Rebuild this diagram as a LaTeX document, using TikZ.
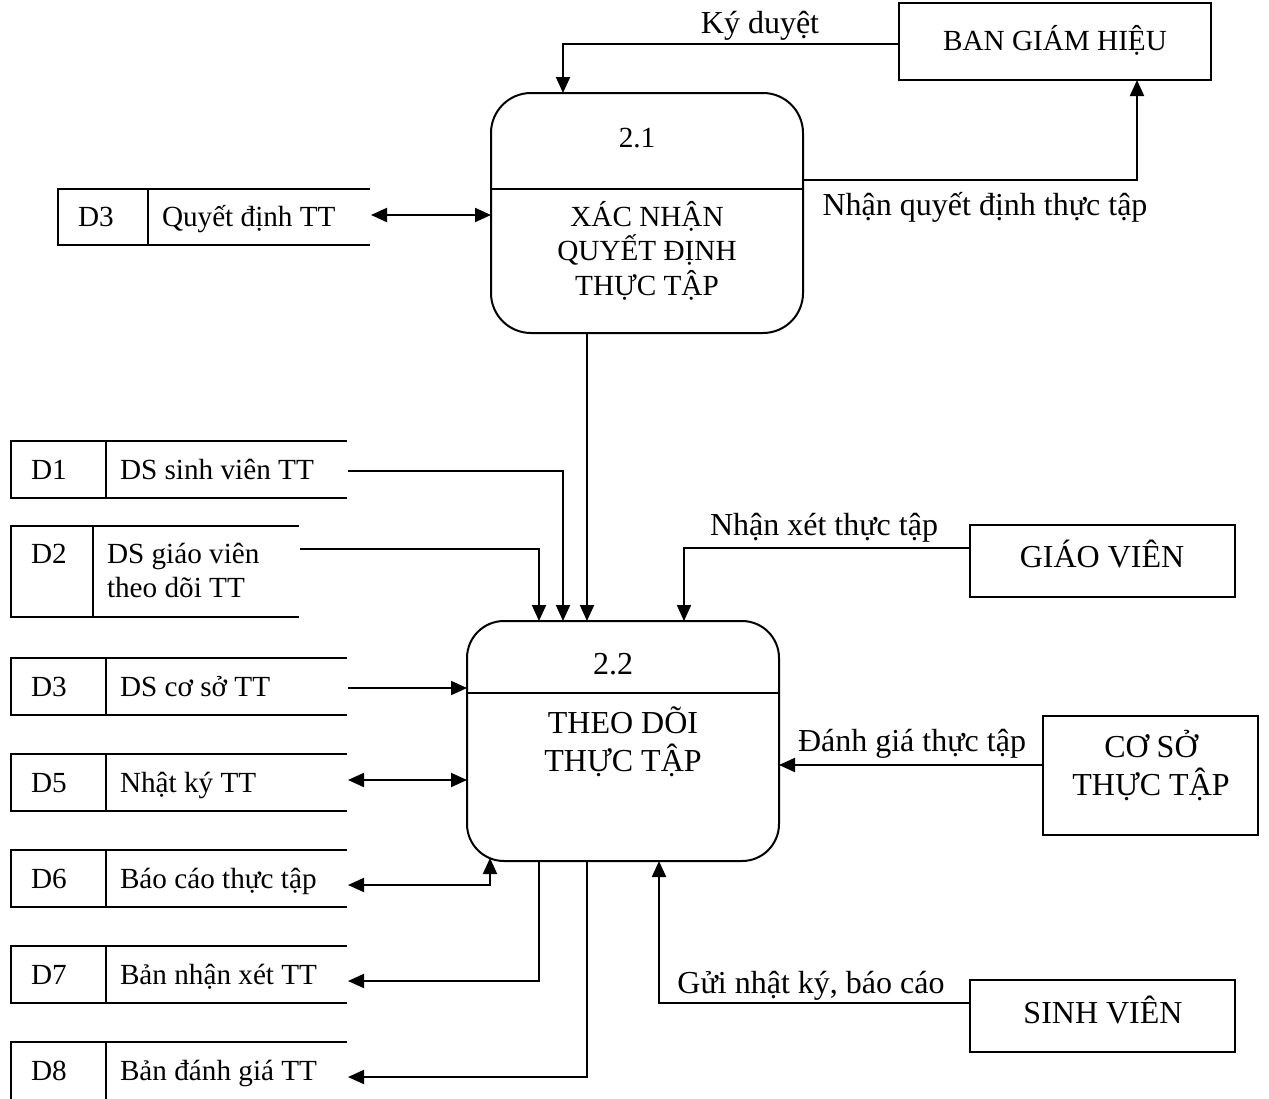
\documentclass[tikz,border=0pt]{standalone}
\usepackage{fontspec}
\setmainfont{Liberation Serif}
\usetikzlibrary{arrows.meta}
\newcommand\mystore[9]{%
  \draw[ln] (#6,#3) -- (#2,#3) -- (#2,#4) -- (#6,#4);
  \draw[ln] (#5,#3) -- (#5,#4);
  \node[anchor=base west] (#1-id) at ({#2+20},{(#3+#4)/2+9.5}) {#8};
  \node[anchor=base west] (#1-t) at ({#5+14},{(#3+#4)/2+9.5}) {#9};
  \coordinate (#1) at ({#6+1},#7);
}
\begin{document}
\begin{tikzpicture}[x=1pt,y=-1pt,
  every node/.style={font=\fontsize{29.2}{35}\selectfont, inner sep=0pt, outer sep=0pt},
  big/.style={font=\fontsize{32}{38}\selectfont},
  ln/.style={line width=2pt},
  arr/.style={ln,-{Triangle[length=16pt,width=14pt]}},
  darr/.style={ln,{Triangle[length=16pt,width=14pt]}-{Triangle[length=16pt,width=14pt]}},
  ext/.style={draw, line width=2pt, rectangle},
  proc/.style={draw, line width=2pt, rectangle}
]
\useasboundingbox (0,0) rectangle (1269,1098);

% helper coordinates
\coordinate (xa) at (563,0);
\coordinate (xb) at (1137,0);
\coordinate (xc) at (587,0);
\coordinate (xd) at (539,0);
\coordinate (xe) at (684,0);
\coordinate (xf) at (659,0);
\coordinate (xg) at (490,0);
\coordinate (y44) at (0,44);
\coordinate (y180) at (0,180);
\coordinate (y189) at (0,189);
\coordinate (y693) at (0,693);
\coordinate (y548) at (0,548);
\coordinate (y765) at (0,765);
\coordinate (y1003) at (0,1003);

% processes
\node[proc, rounded corners=40pt, minimum width=312pt, minimum height=240pt] (p21) at (647,213) {};
\draw[ln] (p21.west |- y189) -- (p21.east |- y189);
\node[anchor=base] (p21n) at (637,147) {2.1};
\node[anchor=base, align=center, font=\fontsize{29.2}{34.5}\selectfont] (p21t) at (647,295) {XÁC NHẬN\\QUYẾT ĐỊNH\\THỰC TẬP};

\node[proc, rounded corners=37pt, minimum width=312pt, minimum height=240pt] (p22) at (623,741) {};
\draw[ln] (p22.west |- y693) -- (p22.east |- y693);
\node[anchor=base, big] (p22n) at (613,674) {2.2};
\node[anchor=base, align=center, font=\fontsize{32}{38}\selectfont] (p22t) at (623,771) {THEO DÕI\\THỰC TẬP};

% external entities
\node[ext, minimum width=312pt, minimum height=77pt] (bgh) at (1055,41.5) {};
\node[anchor=base] (bgh-t) at (1055,50) {BAN GIÁM HIỆU};
\node[ext, minimum width=265pt, minimum height=72pt] (gv) at (1102.5,561) {};
\node[anchor=base, big] (gv-t) at (1102,567) {GIÁO VIÊN};
\node[ext, minimum width=215pt, minimum height=119pt] (cs) at (1150.5,775.5) {};
\node[anchor=base, align=center, font=\fontsize{32}{38}\selectfont] (cs-t) at (1151,795) {CƠ SỞ\\THỰC TẬP};
\node[ext, minimum width=265pt, minimum height=72pt] (sv) at (1102.5,1016) {};
\node[anchor=base, big] (sv-t) at (1103,1023) {SINH VIÊN};

% data stores
\mystore{s0}{58}{189}{245}{148}{370}{215}{D3}{Quyết định TT}
\mystore{s1}{11}{441}{498}{106}{347}{471}{D1}{DS sinh viên TT}
\draw[ln] (299,526) -- (11,526) -- (11,617) -- (299,617);
\draw[ln] (93,526) -- (93,617);
\node[anchor=base west] (s2-id) at (31,563) {D2};
\node[anchor=base west, align=left, font=\fontsize{29.2}{34}\selectfont] (s2-t) at (107,597) {DS giáo viên\\theo dõi TT};
\coordinate (s2) at (300,549);
\mystore{s3}{11}{658}{715}{106}{347}{688}{D3}{DS cơ sở TT}
\mystore{s5}{11}{754}{811}{106}{347}{780}{D5}{Nhật ký TT}
\mystore{s6}{11}{850}{907}{106}{347}{885}{D6}{Báo cáo thực tập}
\mystore{s7}{11}{946}{1003}{106}{347}{981}{D7}{Bản nhận xét TT}
\mystore{s8}{11}{1042}{1100}{106}{347}{1077}{D8}{Bản đánh giá TT}

% flows
\draw[arr] (bgh.west |- y44) -| (xa |- p21.north);
\node[anchor=base, big] (l1) at (760,33) {Ký duyệt};
\draw[arr] (p21.east |- y180) -| (xb |- bgh.south);
\node[anchor=base, big] (l2) at (985,215) {Nhận quyết định thực tập};
\draw[darr] (s0) -- (s0 -| p21.west);
\draw[arr] (xc |- p21.south) -- (xc |- p22.north);
\draw[arr] (s1) -| (xa |- p22.north);
\draw[arr] (s2) -| (xd |- p22.north);
\draw[arr] (s3) -- (s3 -| p22.west);
\draw[darr] (s5) -- (s5 -| p22.west);
\draw[darr] (s6) -| ([yshift=3pt]xg |- p22.south);
\draw[arr] (xd |- p22.south) |- (s7);
\draw[arr] (xc |- p22.south) |- (s8);
\draw[arr] (gv.west |- y548) -| (xe |- p22.north);
\node[anchor=base, big] (l3) at (824,535) {Nhận xét thực tập};
\draw[arr] (cs.west |- y765) -- (p22.east |- y765);
\node[anchor=base, big] (l4) at (912,751) {Đánh giá thực tập};
\draw[arr] (sv.west |- y1003) -| (xf |- p22.south);
\node[anchor=base, big] (l5) at (811,993) {Gửi nhật ký, báo cáo};
\end{tikzpicture}
\end{document}
